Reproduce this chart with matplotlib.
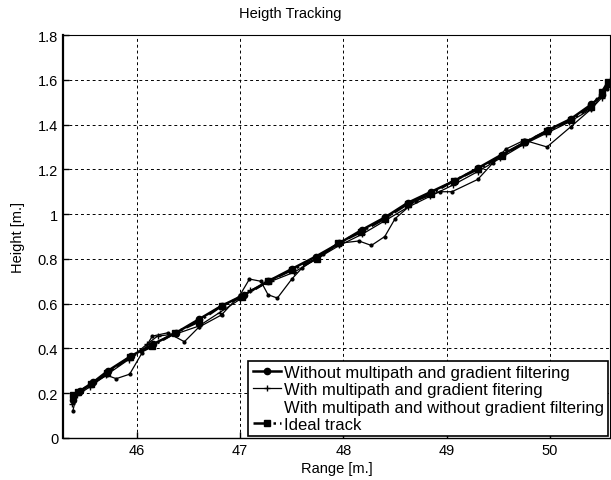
import matplotlib.pyplot as plt
import numpy as np

plt.rcParams['font.family'] = ['Liberation Sans', 'DejaVu Sans']

# ideal track
x_ideal = [45.38, 45.43, 45.56, 45.71, 45.93, 46.15, 46.37, 46.6, 46.82, 47.02, 47.27, 47.5,
           47.74, 47.95, 48.17, 48.4, 48.62, 48.85, 49.07, 49.3, 49.53, 49.75, 49.97, 50.2,
           50.4, 50.5, 50.56]
y_ideal = [0.19, 0.205, 0.24, 0.29, 0.36, 0.41, 0.47, 0.52, 0.59, 0.63, 0.70, 0.75,
           0.80, 0.87, 0.92, 0.98, 1.045, 1.09, 1.15, 1.20, 1.26, 1.32, 1.37, 1.42,
           1.48, 1.545, 1.59]

# without multipath and gradient filtering
x_nomp = [45.38, 45.45, 45.58, 45.72, 45.94, 46.16, 46.38, 46.6, 46.82, 47.04, 47.27, 47.5,
          47.73, 47.96, 48.18, 48.4, 48.62, 48.85, 49.08, 49.3, 49.53, 49.76, 49.98, 50.2,
          50.4, 50.5, 50.57]
y_nomp = [0.17, 0.21, 0.25, 0.30, 0.365, 0.42, 0.47, 0.53, 0.59, 0.64, 0.70, 0.755,
          0.81, 0.87, 0.93, 0.985, 1.05, 1.10, 1.15, 1.205, 1.265, 1.32, 1.375, 1.425,
          1.49, 1.53, 1.58]

# with multipath and gradient filtering
x_mpgf = [45.37, 45.42, 45.55, 45.7, 45.92, 46.1, 46.2, 46.38, 46.6, 46.8, 47.0, 47.1,
          47.3, 47.52, 47.74, 47.96, 48.18, 48.4, 48.62, 48.84, 49.06, 49.3, 49.52,
          49.74, 49.96, 50.18, 50.4, 50.5, 50.58]
y_mpgf = [0.15, 0.19, 0.23, 0.28, 0.35, 0.42, 0.455, 0.465, 0.50, 0.56, 0.62, 0.66,
          0.70, 0.74, 0.80, 0.86, 0.91, 0.97, 1.03, 1.08, 1.13, 1.19, 1.25,
          1.31, 1.36, 1.41, 1.47, 1.52, 1.60]

# with multipath and without gradient filtering
x_mp = [45.38, 45.42, 45.56, 45.71, 45.8, 45.93, 46.05, 46.15, 46.3, 46.46, 46.6, 46.82,
        47.0, 47.09, 47.2, 47.27, 47.36, 47.5, 47.6, 47.8, 47.96, 48.15, 48.27, 48.4,
        48.5, 48.7, 48.93, 49.05, 49.3, 49.45, 49.57, 49.75, 49.97, 50.2, 50.4, 50.55]
y_mp = [0.12, 0.20, 0.24, 0.28, 0.265, 0.285, 0.38, 0.455, 0.47, 0.43, 0.495, 0.55,
        0.64, 0.71, 0.70, 0.64, 0.625, 0.71, 0.76, 0.82, 0.87, 0.88, 0.86, 0.90,
        0.98, 1.06, 1.10, 1.10, 1.155, 1.23, 1.29, 1.33, 1.30, 1.39, 1.47, 1.56]

yticks = [0, 0.2, 0.4, 0.6, 0.8, 1.0, 1.2, 1.4, 1.6, 1.8]
ytick_labels = ['0', '0.2', '0.4', '0.6', '0.8', '1', '1.2', '1.4', '1.6', '1.8']
xticks = [46, 47, 48, 49, 50]

fig = plt.figure(figsize=(6.11, 4.81), dpi=100)
ax = fig.add_axes([63 / 611, 1 - 439 / 481, 547 / 611, 403 / 481])

ax.plot(x_nomp, y_nomp, '-', marker='o', color='black', markersize=4.5, linewidth=1.8,
        label='Without multipath and gradient filtering')
ax.plot(x_mpgf, y_mpgf, '-', marker='+', color='black', markersize=4, linewidth=0.9,
        label='With multipath and gradient fitering')
ax.plot(x_mp, y_mp, '-', marker='.', color='black', markersize=4, linewidth=0.9,
        label='With multipath and without gradient filtering')
ax.plot(x_ideal, y_ideal, '-.', marker='s', color='black', markersize=5, linewidth=1.8,
        label='Ideal track')

ax.set_xlim(45.285, 50.58)
ax.set_ylim(0, 1.8)
ax.set_xticks(xticks)
ax.set_xticklabels([str(t) for t in xticks])
ax.set_yticks(yticks)
ax.set_yticklabels(ytick_labels)
ax.tick_params(direction='in', labelsize=10.5, length=4, width=1)
ax.grid(True, linestyle=(0, (3, 3)), color='black', linewidth=0.7)
ax.spines['left'].set_linewidth(1.6)
ax.spines['bottom'].set_linewidth(1.0)

ax.set_title('Heigth Tracking', fontsize=10.5, x=0.415, pad=13)
ax.set_xlabel('Range [m.]', fontsize=10.5, labelpad=3)
ax.set_ylabel('Height [m.]', fontsize=10.5, labelpad=9)

leg = ax.legend(loc='lower right', fontsize=12, frameon=True, fancybox=False,
                edgecolor='black', framealpha=1, borderaxespad=0.1,
                handlelength=1.7, handletextpad=0.2, labelspacing=0.15,
                borderpad=0.25)
leg.get_frame().set_linewidth(1.2)
leg.legend_handles[2].set_visible(False)

plt.savefig('out.png', dpi=100)
